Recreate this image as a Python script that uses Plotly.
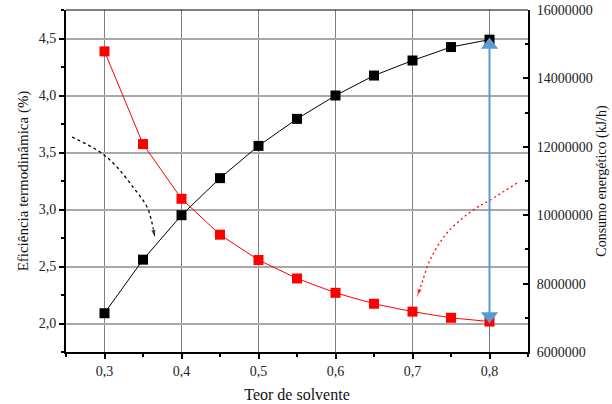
import plotly.graph_objects as go

teor = [0.30, 0.35, 0.40, 0.45, 0.50, 0.55, 0.60, 0.65, 0.70, 0.75, 0.80]
eficiencia = [2.09, 2.56, 2.95, 3.275, 3.558, 3.795, 4.00, 4.175, 4.307, 4.425, 4.49]
consumo = [14.79e6, 12.08e6, 10.48e6, 9.43e6, 8.69e6, 8.15e6, 7.73e6, 7.41e6, 7.18e6, 7.00e6, 6.89e6]

# annotation guides (dotted arrows)
seta_preta_x = [0.2578, 0.2942, 0.3162, 0.3370, 0.3552, 0.3617, 0.3656]
seta_preta_y = [3.636, 3.504, 3.373, 3.197, 3.022, 2.882, 2.75]
seta_vermelha_x = [0.8357, 0.8006, 0.7786, 0.7448, 0.7227, 0.7123, 0.7058]
seta_vermelha_y = [10.94e6, 10.44e6, 10.15e6, 9.48e6, 8.69e6, 8.02e6, 7.61e6]
seta_azul_x = [0.8, 0.8]
seta_azul_y = [14.98e6, 7.05e6]

FONT = "Liberation Serif"
RED = "#ff0000"
BLUE = "#5b9bd5"

fig = go.Figure()

fig.add_trace(go.Scatter(x=teor, y=eficiencia, mode="lines+markers",
                         line=dict(color="black", width=1),
                         marker=dict(symbol="square", size=10, color="black"),
                         yaxis="y", showlegend=False))
fig.add_trace(go.Scatter(x=teor, y=consumo, mode="lines+markers",
                         line=dict(color=RED, width=1),
                         marker=dict(symbol="square", size=10, color=RED),
                         yaxis="y2", showlegend=False))

n = len(seta_preta_x)
fig.add_trace(go.Scatter(x=seta_preta_x, y=seta_preta_y, mode="lines+markers",
                         line=dict(color="black", width=1.3, dash="3px,3px", shape="spline"),
                         marker=dict(symbol="arrow", size=[0] * (n - 1) + [9], angleref="previous",
                                     color="black"),
                         yaxis="y", showlegend=False))
fig.add_trace(go.Scatter(x=seta_vermelha_x, y=seta_vermelha_y, mode="lines+markers",
                         line=dict(color=RED, width=1.3, dash="2px,3px", shape="spline"),
                         marker=dict(symbol="arrow", size=[0] * (n - 1) + [9], angleref="previous",
                                     color=RED),
                         yaxis="y2", showlegend=False))
fig.add_trace(go.Scatter(x=seta_azul_x, y=seta_azul_y, mode="lines+markers",
                         line=dict(color=BLUE, width=2),
                         marker=dict(symbol=["triangle-up", "triangle-down"], size=15, color=BLUE),
                         yaxis="y2", showlegend=False))

tickfont = dict(family=FONT, size=14, color="#222")
titlefont = dict(family=FONT, size=15, color="#111")

fig.update_layout(
    width=612, height=404,
    margin=dict(l=66, r=84, t=10, b=52),
    paper_bgcolor="white", plot_bgcolor="white",
    separators=",.",
    xaxis=dict(range=[0.25, 0.85], tick0=0.3, dtick=0.1, tickformat=".1f",
               showgrid=True, gridcolor="#808080", gridwidth=1,
               showline=True, linecolor="black", linewidth=2,
               ticks="outside", ticklen=5, tickwidth=1.5, tickcolor="black",
               minor=dict(dtick=0.05, ticks="outside", ticklen=3, tickcolor="black", showgrid=False),
               tickfont=tickfont, zeroline=False, automargin=False,
               title=dict(text="Teor de solvente", font=dict(family=FONT, size=16, color="#111"),
                          standoff=11)),
    yaxis=dict(range=[1.75, 4.75], tick0=2.0, dtick=0.5, tickformat=".1f",
               showgrid=True, gridcolor="#a8a8a8", gridwidth=1.5,
               showline=True, linecolor="black", linewidth=2,
               ticks="outside", ticklen=5, tickwidth=1.5, tickcolor="black",
               minor=dict(dtick=0.25, ticks="outside", ticklen=3, tickcolor="black", showgrid=False),
               tickfont=tickfont, zeroline=False, automargin=False,
               title=dict(text="Eficiência termodinâmica (%)", font=titlefont, standoff=6)),
    yaxis2=dict(range=[6e6, 16e6], tick0=6e6, dtick=2e6, tickformat="d",
                overlaying="y", side="right", showgrid=False,
                showline=True, linecolor="black", linewidth=2,
                ticks="inside", ticklen=5, tickwidth=1.5, tickcolor="black",
                minor=dict(dtick=1e6, ticks="inside", ticklen=3, tickcolor="black"),
                tickfont=tickfont, zeroline=False, automargin=False, ticklabelstandoff=4,
                title=dict(text="Consumo energético (kJ/h)", font=dict(family=FONT, size=14, color="#111"),
                           standoff=4)),
    shapes=[dict(type="line", xref="paper", yref="paper", x0=0, x1=1, y0=1, y1=1,
                 line=dict(color="black", width=1))],
)

fig.write_html("out.html")
